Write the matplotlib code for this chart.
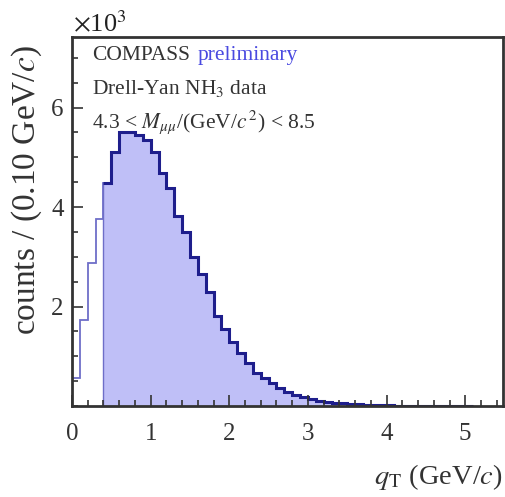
import matplotlib
matplotlib.use('Agg')
import matplotlib.pyplot as plt
import numpy as np
from matplotlib.ticker import MultipleLocator, FixedLocator

matplotlib.rcParams['font.family'] = 'Liberation Serif'
matplotlib.rcParams['mathtext.fontset'] = 'stix'

# q_T histogram, 0.1 GeV/c bins starting at 0
bin_width = 0.1
counts = [560, 1730, 2870, 3760, 4480, 5100, 5500, 5500, 5450, 5340,
          5100, 4690, 4380, 3830, 3490, 2990, 2650, 2300, 1800, 1550,
          1280, 1060, 860, 660, 560, 460, 360, 290, 230, 190,
          140, 110, 90, 70, 55, 42, 32, 25, 20, 15,
          12, 10, 8, 6, 5, 4, 3, 3, 2, 2, 1]
qt_cut = 0.4  # filled part starts here
x_ticks = [0, 1, 2, 3, 4, 5]
y_ticks = [2, 4, 6]  # in units of 10^3

edges = np.arange(len(counts) + 1) * bin_width
vals = np.array(counts) / 1000.0
icut = int(round(qt_cut / bin_width))

W, H = 506, 497
fig = plt.figure(figsize=(W / 100, H / 100), dpi=100)
ax = fig.add_axes([72 / W, 1 - 406 / H, (503 - 72) / W, (406 - 37) / H])

fill_col = '#bfbff7'
dark_col = '#1e1e8c'
thin_col = '#6e6ec8'

ax.stairs(vals, edges, color=thin_col, lw=1.3, baseline=0)
ax.stairs(vals[icut:], edges[icut:], fill=True, color=fill_col)
ax.stairs(vals[icut:], edges[icut:], fill=False, color=thin_col, lw=1.0, baseline=0)
ax.stairs(vals[icut:], edges[icut:], color=dark_col, lw=2.2, baseline=None)

ax.set_xlim(0, 5.48)
ax.set_ylim(0, 7.42)
ax.xaxis.set_major_locator(FixedLocator(x_ticks))
ax.xaxis.set_minor_locator(MultipleLocator(0.2))
ax.yaxis.set_major_locator(FixedLocator(y_ticks))
ax.yaxis.set_minor_locator(MultipleLocator(0.5))
ax.tick_params(which='both', direction='in', top=False, right=False,
               labelsize=18, width=1.2, color='#333333', labelcolor='#333333')
ax.tick_params(which='major', length=8)
ax.tick_params(axis='x', which='major', pad=12)
ax.tick_params(axis='y', which='major', pad=6)
ax.tick_params(which='minor', length=4)
for s in ax.spines.values():
    s.set_linewidth(2)
    s.set_color('#333333')

def px(x, y):
    return x / W, 1 - y / H

fig.text(*px(73, 32), r'$\times$10$^3$', fontsize=19, color='#222222')
fig.text(*px(92, 60), 'COMPASS', fontsize=15.5, color='#333333')
fig.text(*px(198, 60), 'preliminary', fontsize=15.5, color='#4a4ae0')
fig.text(*px(92, 94), r'Drell-Yan NH$_3$ data', fontsize=15.5, color='#333333')
fig.text(*px(92, 128), r'4.3 < $M_{\mu\mu}$/(GeV/$c^{\,2}$) < 8.5', fontsize=15.5,
         color='#333333')

fig.text(*px(503, 484), r'$q_{\rm T}$ (GeV/$c$)', fontsize=20.5, ha='right',
         va='baseline', color='#333333')
fig.text(*px(27, 190), r'counts / (0.10 GeV/$c$)', fontsize=24, rotation=90,
         ha='center', va='center', color='#333333')

fig.savefig('out.png', dpi=100)
